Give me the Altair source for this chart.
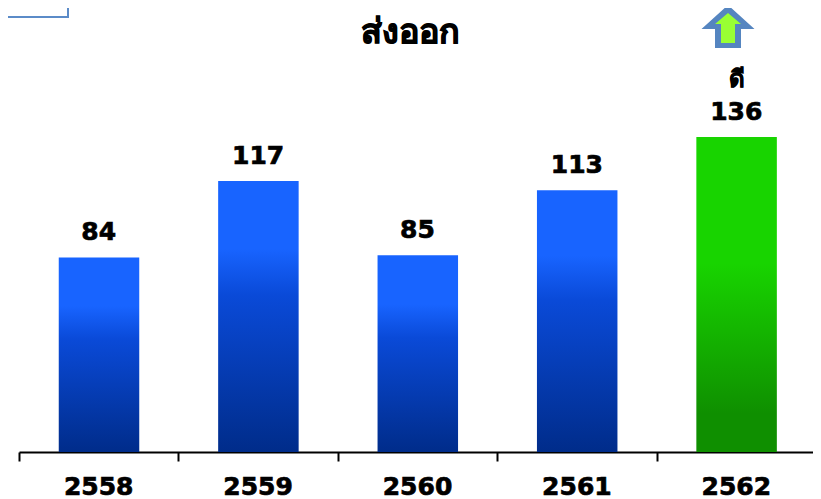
import altair as alt
import pandas as pd

years = ["2558", "2559", "2560", "2561", "2562"]
values = [84, 117, 85, 113, 136]
groups = ["blue", "blue", "blue", "blue", "green"]
title_text = "ส่งออก"
good_text = "ดี"

df = pd.DataFrame({"year": years, "value": values, "group": groups})

FONT = "DejaVu Sans"
x = alt.X("year:N", sort=years,
          scale=alt.Scale(paddingInner=0, paddingOuter=0, round=False),
          axis=alt.Axis(title=None, labels=False,
                        domainColor="black", domainWidth=2, tickColor="black", tickWidth=2,
                        tickSize=9, tickBand="extent"))
y = alt.Y("value:Q", scale=alt.Scale(domain=[0, 191.7], nice=False), axis=None)


def grad(stops):
    return alt.Gradient(gradient="linear", x1=0, y1=0, x2=0, y2=1,
                        stops=[alt.GradientStop(offset=o, color=c) for o, c in stops])


blue_stops = [(0, "#1864FF"), (0.25, "#1864FF"), (0.42, "#0A4AD8"), (1, "#002C8A")]
green_stops = [(0, "#18D400"), (0.4, "#18D400"), (0.88, "#0F8F00"), (1, "#0F8F00")]

base = alt.Chart(df)
blue = base.transform_filter("datum.group == 'blue'").mark_bar(
    size=80.5, xOffset=0.3, color=grad(blue_stops)).encode(x=x, y=y)
green = base.transform_filter("datum.group == 'green'").mark_bar(
    size=80.5, xOffset=0.3, color=grad(green_stops)).encode(x=x, y=y)
labels = base.mark_text(font=FONT, fontSize=25, fontWeight="bold", color="black",
                        stroke="black", strokeWidth=0.7,
                        baseline="bottom", dy=-12).encode(x=x, y=y, text="value:Q")
ticks_text = base.mark_text(font=FONT, fontSize=25, fontWeight="bold", color="black",
                            stroke="black", strokeWidth=0.7).encode(
    x=x, y=alt.value(479), text="year:N")

one = alt.Chart(pd.DataFrame({"a": [1]}))
title = one.mark_text(font=FONT, fontSize=34, fontWeight="bold", color="black",
                      stroke="black", strokeWidth=1).encode(
    x=alt.value(391.5), y=alt.value(25), text=alt.value(title_text))
good = one.mark_text(font=FONT, fontSize=24, fontWeight="bold", color="black",
                     stroke="black", strokeWidth=0.6).encode(
    x=alt.value(717.5), y=alt.value(72), text=alt.value(good_text))

arrow_out = one.mark_point(
    shape="M0,-24 L26.5,0 L13,0 L13,19 L-13,19 L-13,0 L-26.5,0 Z",
    size=4, filled=True, color="#5585C0", opacity=1).encode(x=alt.value(709), y=alt.value(21))
arrow_in = one.mark_point(
    shape="M0,-16 L13,-5 L7,-5 L7,14 L-7,14 L-7,-5 L-13,-5 Z",
    size=4, filled=True, color="#99FF33", opacity=1).encode(x=alt.value(709), y=alt.value(21))

box_r = one.mark_rule(color="#5B8BC8", strokeWidth=2).encode(
    x=alt.value(49), y=alt.value(0), y2=alt.value(9))
box_b = one.mark_rule(color="#5B8BC8", strokeWidth=2).encode(
    x=alt.value(-11), x2=alt.value(50), y=alt.value(9))

chart = alt.layer(blue, green, labels, ticks_text, title, good, arrow_out, arrow_in, box_r, box_b).properties(
    width=797, height=444,
    padding={"left": 11, "top": 0, "right": -3, "bottom": 47},
    autosize=alt.AutoSizeParams(type="none"),
    background="white",
).configure_view(stroke=None)

chart.save("out.html", embed_options={"renderer": "svg", "actions": False})
